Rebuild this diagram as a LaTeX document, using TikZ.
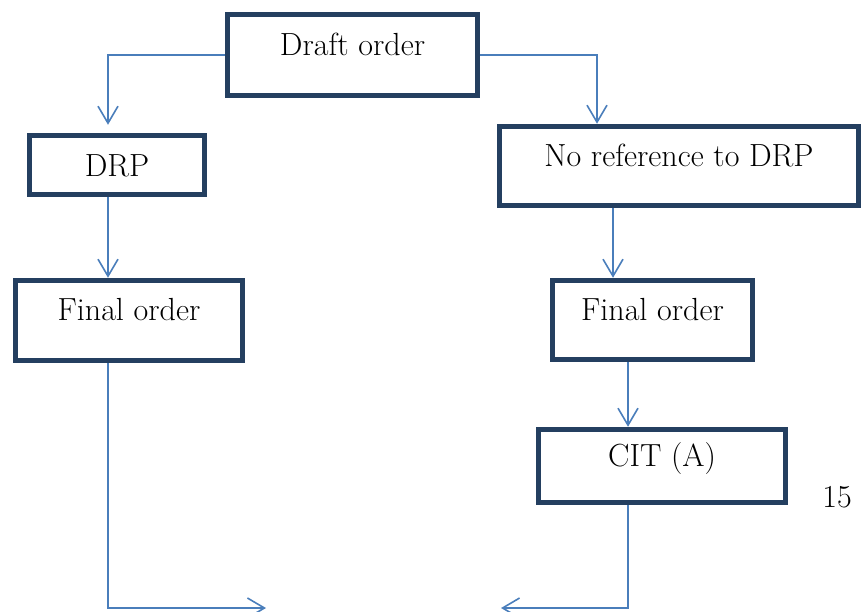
\documentclass[tikz,border=0pt]{standalone}
\usepackage{tikz}
\usetikzlibrary{%
  arrows.meta,%
  positioning%
}
\definecolor{boxblue}{RGB}{36,63,96}
\definecolor{lineblue}{RGB}{74,126,187}

\begin{document}
\begin{tikzpicture}[
  x=1pt,y=-1pt,
  font=\fontsize{32}{38}\selectfont,
  >={Straight Barb[length=17pt,width=20pt]},
  box/.style={draw=boxblue,line width=5.5pt,fill=white,inner sep=0pt,
    text height=22pt,text depth=22pt},
  link/.style={draw=lineblue,line width=1.6pt,->},
]
\useasboundingbox (0,0) rectangle (861,611);

\node[box,minimum width=250pt,minimum height=81pt] (draft) at (352.5,55) {Draft order};
\node[box,minimum width=175pt,minimum height=59pt,text depth=0pt] (drp) at (117,165) {DRP};
\node[box,minimum width=359pt,minimum height=79pt] (noref) at (679,166) {No reference to DRP};
\node[box,minimum width=227pt,minimum height=80pt] (finL) at (129,320.5) {Final order};
\node[box,minimum width=200pt,minimum height=79pt] (finR) at (652.5,320) {Final order};
\node[box,minimum width=247pt,minimum height=73pt] (cit) at (662,466) {CIT (A)};
\node (pg) at (837,497.5) {15};

\coordinate (endL) at (266,608);
\coordinate (endR) at (501,608);

\draw[link,shorten >=8pt] (draft.west) -| ([xshift=-9pt]drp.north);
\draw[link] (draft.east) -| ([xshift=-82pt]noref.north);
\draw[link] ([xshift=-9pt]drp.south) -- ([xshift=-9pt]drp.south |- finL.north);
\draw[link] ([xshift=-66pt]noref.south) -- ([xshift=-66pt]noref.south |- finR.north);
\draw[link] ([xshift=-24.5pt]finR.south) -- ([xshift=-24.5pt]finR.south |- cit.north);
\draw[link] ([xshift=-21pt]finL.south) |- (endL);
\draw[link] ([xshift=-34pt]cit.south) |- (endR);
\end{tikzpicture}
\end{document}
